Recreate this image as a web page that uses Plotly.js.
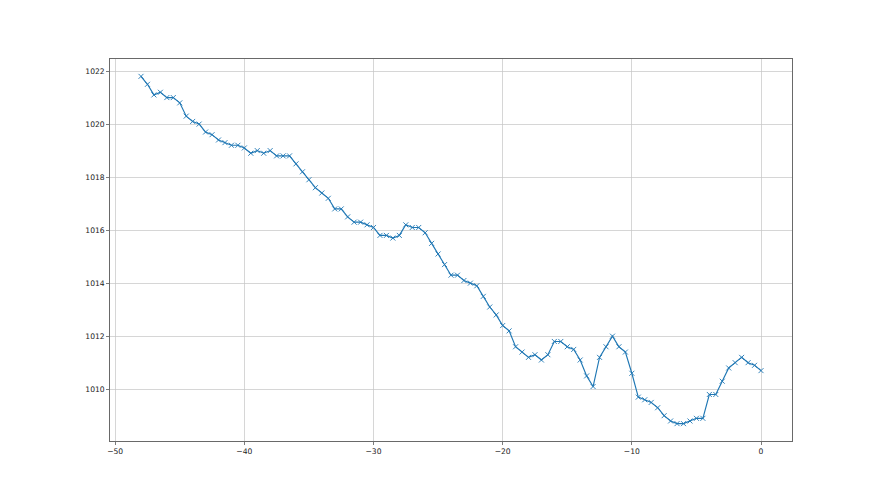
<!DOCTYPE html>
<html>
<head>
<meta charset="utf-8">
<script src="https://cdn.plot.ly/plotly-3.0.1.min.js"></script>
<style>html,body{margin:0;padding:0;background:#fff;}#chart{width:880px;height:495px;}</style>
</head>
<body>
<div id="chart"></div>
<script>
const hours = [-48,-47.5,-47,-46.5,-46,-45.5,-45,-44.5,-44,-43.5,-43,-42.5,-42,-41.5,-41,-40.5,
  -40,-39.5,-39,-38.5,-38,-37.5,-37,-36.5,-36,-35.5,-35,-34.5,-34,-33.5,-33,-32.5,
  -32,-31.5,-31,-30.5,-30,-29.5,-29,-28.5,-28,-27.5,-27,-26.5,-26,-25.5,-25,-24.5,
  -24,-23.5,-23,-22.5,-22,-21.5,-21,-20.5,-20,-19.5,-19,-18.5,-18,-17.5,-17,-16.5,
  -16,-15.5,-15,-14.5,-14,-13.5,-13,-12.5,-12,-11.5,-11,-10.5,-10,-9.5,-9,-8.5,
  -8,-7.5,-7,-6.5,-6,-5.5,-5,-4.5,-4,-3.5,-3,-2.5,-2,-1.5,-1,-0.5,0];
const pressure = [1021.8,1021.5,1021.1,1021.2,1021.0,1021.0,1020.8,1020.3,1020.1,1020.0,1019.7,1019.6,1019.4,1019.3,1019.2,1019.2,
  1019.1,1018.9,1019.0,1018.9,1019.0,1018.8,1018.8,1018.8,1018.5,1018.2,1017.9,1017.6,1017.4,1017.2,1016.8,1016.8,
  1016.5,1016.3,1016.3,1016.2,1016.1,1015.8,1015.8,1015.7,1015.8,1016.2,1016.1,1016.1,1015.9,1015.5,1015.1,1014.7,
  1014.3,1014.3,1014.1,1014.0,1013.9,1013.5,1013.1,1012.8,1012.4,1012.2,1011.6,1011.4,1011.2,1011.3,1011.1,1011.3,
  1011.8,1011.8,1011.6,1011.5,1011.1,1010.5,1010.1,1011.2,1011.6,1012.0,1011.6,1011.4,1010.6,1009.7,1009.6,1009.5,
  1009.3,1009.0,1008.8,1008.7,1008.7,1008.8,1008.9,1008.9,1009.8,1009.8,1010.3,1010.8,1011.0,1011.2,1011.0,1010.9,1010.7];

const trace = {
  x: hours, y: pressure, type: 'scatter', mode: 'lines+markers',
  line: {color: '#1f77b4', width: 1.15},
  marker: {symbol: 'x-thin', size: 5, color: '#1f77b4', line: {color: '#1f77b4', width: 0.9}},
  hoverinfo: 'x+y'
};
const axisCommon = {
  showline: true, linecolor: '#444', linewidth: 0.8, mirror: true,
  showgrid: true, gridcolor: '#c4c4c4', gridwidth: 0.7,
  zeroline: false, ticks: 'outside', ticklen: 3, tickwidth: 0.7, tickcolor: '#444',
  tickfont: {family: 'DejaVu Sans', size: 7.6, color: '#222'}
};
const layout = {
  width: 880, height: 495,
  margin: {l: 110, r: 88, t: 59, b: 54},
  paper_bgcolor: '#fff', plot_bgcolor: '#fff',
  showlegend: false,
  xaxis: Object.assign({}, axisCommon, {range: [-50.4, 2.4], dtick: 10, tick0: 0}),
  yaxis: Object.assign({}, axisCommon, {range: [1008.045, 1022.455], dtick: 2, tick0: 1010})
};
Plotly.newPlot('chart', [trace], layout, {displayModeBar: false, staticPlot: true});
</script>
</body>
</html>
